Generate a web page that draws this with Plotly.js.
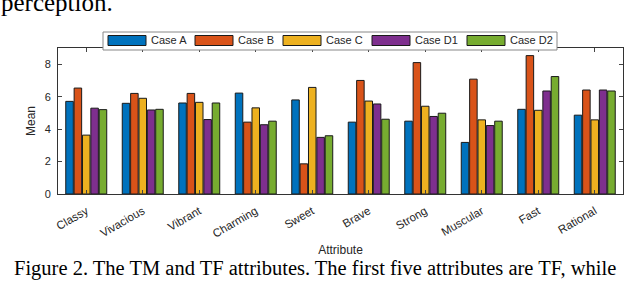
<!DOCTYPE html>
<html><head><meta charset="utf-8">
<script src="https://cdn.plot.ly/plotly-3.0.1.min.js"></script>
<style>html,body{margin:0;padding:0;background:#fff}#chart{width:640px;height:281px}</style>
</head><body><div id="chart"></div>
<script>
const categories = ["Classy","Vivacious","Vibrant","Charming","Sweet","Brave","Strong","Muscular","Fast","Rational"];
const seriesNames = ["Case A","Case B","Case C","Case D1","Case D2"];
const caseA  = [5.71, 5.59, 5.61, 6.22, 5.80, 4.43, 4.49, 3.18, 5.22, 4.86];
const caseB  = [6.53, 6.20, 6.20, 4.43, 1.86, 7.00, 8.10, 7.08, 8.53, 6.41];
const caseC  = [3.63, 5.90, 5.65, 5.31, 6.57, 5.73, 5.41, 4.57, 5.16, 4.57];
const caseD1 = [5.29, 5.18, 4.59, 4.27, 3.49, 5.55, 4.78, 4.22, 6.35, 6.41];
const caseD2 = [5.20, 5.22, 5.61, 4.49, 3.59, 4.61, 4.98, 4.49, 7.24, 6.35];
const yTicks = [0, 2, 4, 6, 8];
const colors = ["#0072BD","#D95319","#EDB120","#7E2F8E","#77AC30"];
const allSeries = [caseA, caseB, caseC, caseD1, caseD2];

const traces = allSeries.map((vals, i) => ({
  type: "bar", name: seriesNames[i], x: categories, y: vals,
  marker: {color: colors[i], line: {color: "#1a1a1a", width: 1}},
  showlegend: false, hoverinfo: "skip"
}));

// plot area in pixels: x 58..623, y 48..194
const L = 58, R = 623, T = 48, B = 194;
const px = x => (x - L) / (R - L);
const py = y => (B - y) / (B - T);

const shapes = [];
const annotations = [];
// legend box
shapes.push({type:"rect", xref:"paper", yref:"paper", x0:px(103), x1:px(557), y0:py(50), y1:py(32),
  line:{color:"#888", width:1}, fillcolor:"#fff", layer:"above"});
const legX = [108, 195, 283, 372, 467];
seriesNames.forEach((n, i) => {
  shapes.push({type:"rect", xref:"paper", yref:"paper", x0:px(legX[i]), x1:px(legX[i]+38), y0:py(45.5), y1:py(35.5),
    line:{color:"#1a1a1a", width:1}, fillcolor:colors[i], layer:"above"});
  annotations.push({xref:"paper", yref:"paper", x:px(legX[i]+41), y:py(40.5), xanchor:"left", yanchor:"middle",
    text:n, showarrow:false, font:{family:"Liberation Sans, Arial", size:11, color:"#262626"}});
});
annotations.push({xref:"paper", yref:"paper", x:px(-1), y:py(18), xanchor:"left", yanchor:"bottom",
  text:"perception.", showarrow:false, font:{family:"Liberation Serif, Times New Roman", size:25, color:"#000"}});
annotations.push({xref:"paper", yref:"paper", x:px(13), y:py(268), xanchor:"left", yanchor:"middle",
  text:"Figure 2. The TM and TF attributes. The first five attributes are TF, while", showarrow:false,
  borderpad: 0, font:{family:"Liberation Serif, Times New Roman", size:20.5, color:"#000"}});

const layout = {
  width: 640, height: 281,
  margin: {l: L, r: 640 - R, t: T, b: 281 - B, pad: 0},
  paper_bgcolor: "#fff", plot_bgcolor: "#fff",
  barmode: "group", bargap: 0.26, bargroupgap: 0.1,
  font: {family: "Liberation Sans, Arial", size: 11, color: "#262626"},
  xaxis: {
    type: "category", range: [-0.5, 9.5], tickangle: -30,
    showline: true, linecolor: "#333", linewidth: 1, mirror: "ticks",
    ticks: "inside", ticklen: 4, tickcolor: "#444", ticklabelstandoff: 5,
    tickfont: {family: "Liberation Sans, Arial", size: 11.5, color: "#262626"},
    title: {text: "Attribute", font: {size: 12, color: "#262626"}, standoff: 6},
    showgrid: false, zeroline: false
  },
  yaxis: {
    range: [0, 9], tickvals: yTicks, ticktext: yTicks.map(String),
    showline: true, linecolor: "#333", linewidth: 1, mirror: "ticks",
    ticks: "inside", ticklen: 4, tickcolor: "#444", ticklabelstandoff: 4,
    tickfont: {family: "Liberation Sans, Arial", size: 11, color: "#262626"},
    title: {text: "Mean", font: {size: 12, color: "#262626"}, standoff: 6},
    showgrid: false, zeroline: false
  },
  shapes, annotations, showlegend: false
};
Plotly.newPlot("chart", traces, layout, {staticPlot: true, displayModeBar: false});
</script></body></html>
